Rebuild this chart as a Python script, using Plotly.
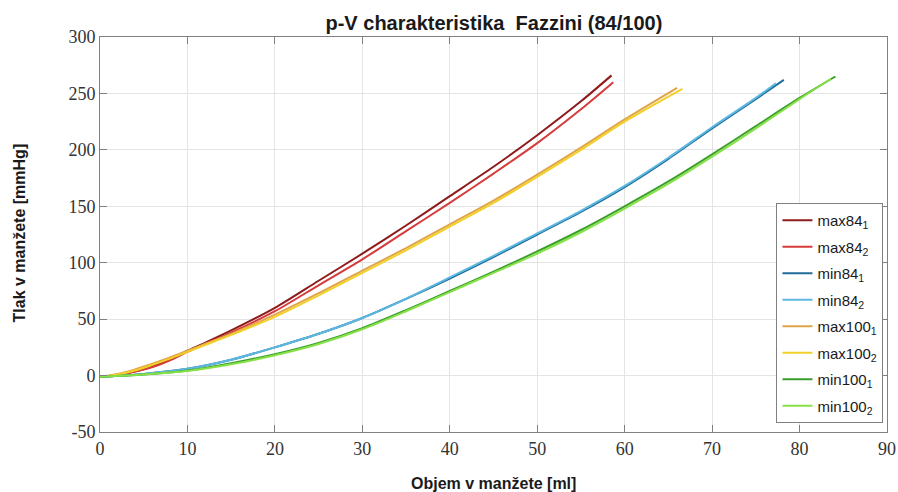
import plotly.graph_objects as go

# ---- data ----
max84_1_x = [0, 2, 4, 6, 8, 10, 12, 15, 20, 25, 30, 35, 40, 45, 50, 55, 58.5]
max84_1_y = [-1, 0.5, 3.5, 8, 14.5, 22, 29, 40, 60, 84, 108, 133, 159, 185, 213, 243, 266]

max84_2_x = [0, 2, 4, 6, 8, 10, 12, 15, 20, 25, 30, 35, 40, 45, 50, 55, 58.7]
max84_2_y = [-1, 0.5, 3.5, 7.5, 13.5, 21, 28, 38, 57, 80, 103, 128, 153, 179, 206, 236, 260]

max100_1_x = [0, 2, 4, 6, 8, 10, 12, 15, 20, 25, 30, 35, 40, 45, 50, 55, 60, 66.0]
max100_1_y = [-1, 1.5, 5.5, 10.5, 16, 22, 28, 37, 54, 73, 93, 113, 134, 155, 178, 202, 227, 255]

max100_2_x = [0, 2, 4, 6, 8, 10, 12, 15, 20, 25, 30, 35, 40, 45, 50, 55, 60, 66.6]
max100_2_y = [-1, 1, 4.5, 9.5, 15, 21, 27, 36, 52, 71, 91, 111, 132, 153, 176, 200, 225, 254]

min84_1_x = [0, 5, 10, 15, 20, 25, 30, 35, 40, 45, 50, 55, 60, 65, 70, 75, 78.2]
min84_1_y = [-1, 1.5, 6, 14, 25, 37, 51, 68, 86, 105, 125, 145, 167, 192, 219, 245, 262]

min84_2_x = [0, 5, 10, 15, 20, 25, 30, 35, 40, 45, 50, 55, 60, 65, 70, 75, 77.3]
min84_2_y = [-1, 1.5, 6, 14, 25, 37, 51, 68, 87, 106, 126, 146, 168, 193, 220, 246, 259]

min100_1_x = [0, 5, 10, 15, 20, 25, 30, 35, 40, 45, 50, 55, 60, 65, 70, 75, 80, 84.1]
min100_1_y = [-1, 1, 4.5, 11, 19, 29, 42, 58, 75, 92, 110, 129, 150, 172, 196, 221, 246, 265]

min100_2_x = [0, 5, 10, 15, 20, 25, 30, 35, 40, 45, 50, 55, 60, 65, 70, 75, 80, 83.6]
min100_2_y = [-1, 1, 4, 10, 18, 28, 41, 57, 74, 91, 108, 127, 148, 170, 194, 219, 245, 263]

series_names = ["max84<sub>1</sub>", "max84<sub>2</sub>", "min84<sub>1</sub>", "min84<sub>2</sub>",
                "max100<sub>1</sub>", "max100<sub>2</sub>", "min100<sub>1</sub>", "min100<sub>2</sub>"]
series_x = [max84_1_x, max84_2_x, min84_1_x, min84_2_x, max100_1_x, max100_2_x, min100_1_x, min100_2_x]
series_y = [max84_1_y, max84_2_y, min84_1_y, min84_2_y, max100_1_y, max100_2_y, min100_1_y, min100_2_y]
series_colors = ["#8E1B1B", "#D63B3B", "#1F6B99", "#5CB8E0",
                 "#E0A44A", "#F2D028", "#3A9E2C", "#86E048"]

x_ticks = [0, 10, 20, 30, 40, 50, 60, 70, 80, 90]
y_ticks = [-50, 0, 50, 100, 150, 200, 250, 300]
y_ticklabels = ["-50", "0", "50", "100", "150", "200", "250", "300"]

fig = go.Figure()
for i, (name, xs, ys, col) in enumerate(zip(series_names, series_x, series_y, series_colors)):
    fig.add_trace(go.Scatter(x=xs, y=ys, mode="lines", name=name, legendgroup=f"g{i}",
                             line=dict(color=col, width=2, shape="spline", smoothing=0.8)))

SANS = "Liberation Sans, Arial, sans-serif"
SERIF = "Liberation Serif, Times New Roman, Times, serif"
tickfont = dict(family=SERIF, size=18, color="#333333")
axis_common = dict(
    showgrid=True, gridcolor="#E4E4E4", gridwidth=1,
    zeroline=False, showline=True, linecolor="#808080", linewidth=1,
    mirror="ticks", ticks="inside", ticklen=7, tickcolor="#808080",
    tickfont=tickfont, automargin=False,
)

fig.update_layout(
    width=898, height=492,
    margin=dict(l=100, r=11, t=37, b=60),
    paper_bgcolor="white", plot_bgcolor="white",
    title=dict(text="<b>p-V charakteristika  Fazzini (84/100)</b>",
               x=0.55, xanchor="center", y=0.953, yanchor="middle",
               font=dict(family=SANS, size=20, color="#1A1A1A")),
    xaxis=dict(range=[0, 90], tickvals=x_ticks, **axis_common),
    yaxis=dict(range=[-50, 300], tickvals=y_ticks, ticktext=y_ticklabels, **axis_common),
    legend=dict(x=0.9955, xanchor="right", y=0.023, yanchor="bottom",
                bgcolor="white", bordercolor="#808080", borderwidth=1,
                font=dict(family=SANS, size=15, color="#1A1A1A"),
                itemwidth=30, tracegroupgap=4),
    showlegend=True,
    annotations=[
        dict(text="<b>Objem v manžete [ml]</b>", xref="paper", yref="paper",
             x=0.5006, y=-0.1316, xanchor="center", yanchor="middle", showarrow=False,
             font=dict(family=SANS, size=16, color="#1A1A1A")),
        dict(text="<b>Tlak v manžete [mmHg]</b>", xref="paper", yref="paper",
             x=-0.1017, y=0.505, xanchor="center", yanchor="middle", showarrow=False,
             textangle=-90, font=dict(family=SANS, size=16, color="#1A1A1A")),
    ],
)

fig.write_html("out.html")
